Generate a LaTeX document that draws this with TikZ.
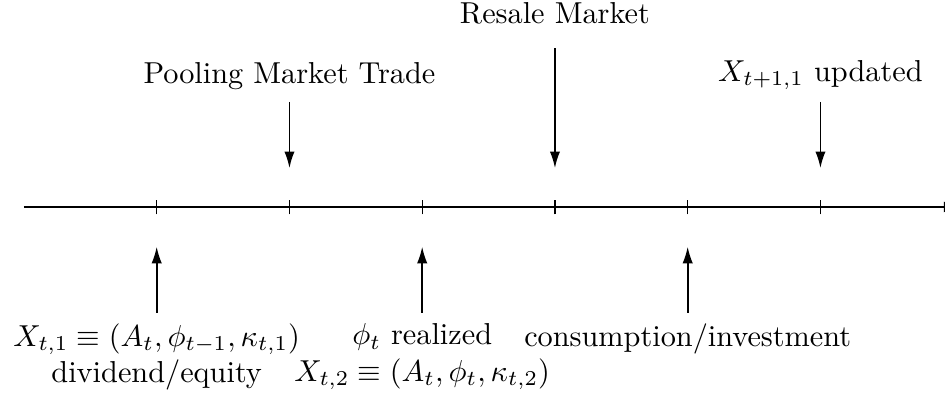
\documentclass[tikz,border=0pt]{standalone}
\usepackage{amsmath,amssymb}
\usepackage{tikz}
\usetikzlibrary{arrows.meta,positioning,calc}

\tikzset{
  event/.style={->,semithick},
  tick/.style={thin},
}

\begin{document}
\begin{tikzpicture}[>=Latex,event/.append style={-{Latex[length=5.5pt,width=3.4pt]}}]
\useasboundingbox (-0.278,-2.193) rectangle (10.685,2.401);
% time line
\coordinate (start) at (0,0);
\coordinate (end) at (10.84,0);
\draw[->] (start) -- (end);
\draw[tick] (1.54,-0.085) -- (1.54,0.085);
\draw[tick] (3.08,-0.085) -- (3.08,0.085);
\draw[tick] (4.62,-0.085) -- (4.62,0.085);
\draw[tick] (6.16,-0.085) -- (6.16,0.085);
\draw[tick] (7.70,-0.085) -- (7.70,0.085);
\draw[tick] (9.24,-0.085) -- (9.24,0.085);
% events above the line
\node[anchor=base] (pool) at (3.08,1.43) {Pooling Market Trade};
\node[anchor=base] (resale) at (6.16,2.13) {Resale Market};
\node[anchor=base] (update) at (9.24,1.46) {$X_{t+1,1}$ updated};
\coordinate (pooltop) at (3.08,1.22);
\coordinate (pooldown) at (3.08,0.45);
\coordinate (resaletop) at (6.16,1.84);
\coordinate (resaledown) at (6.16,0.45);
\coordinate (updatetop) at (9.24,1.22);
\coordinate (updatedown) at (9.24,0.45);
\draw[event] (pooltop) -- (pooldown);
\draw[event] (resaletop) -- (resaledown);
\draw[event] (updatetop) -- (updatedown);
% events below the line
\coordinate (statebot) at (1.54,-1.23);
\coordinate (stateup) at (1.54,-0.46);
\coordinate (shockbot) at (4.62,-1.23);
\coordinate (shockup) at (4.62,-0.46);
\coordinate (consbot) at (7.70,-1.23);
\coordinate (consup) at (7.70,-0.46);
\draw[event] (statebot) -- (stateup);
\draw[event] (shockbot) -- (shockup);
\draw[event] (consbot) -- (consup);
\node[anchor=north,align=center] (state) at (statebot)
  {$X_{t,1}\equiv(A_t,\phi_{t-1},\kappa_{t,1})$\\dividend/equity};
\node[anchor=north,align=center] (shock) at (shockbot)
  {$\phi_t$ realized\\$X_{t,2}\equiv(A_t,\phi_t,\kappa_{t,2})$};
\node[anchor=north] (cons) at (consbot) {consumption/investment};
\end{tikzpicture}
\end{document}
